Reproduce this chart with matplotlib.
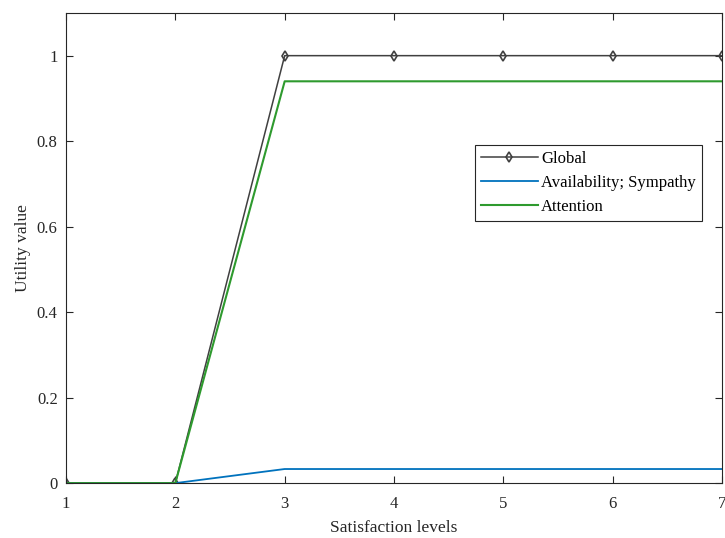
import matplotlib
matplotlib.use('Agg')
import matplotlib.pyplot as plt

plt.rcParams['font.family'] = ['Liberation Serif', 'DejaVu Serif']

levels = [1, 2, 3, 4, 5, 6, 7]
global_util = [0, 0, 1, 1, 1, 1, 1]
avail_sympathy = [0, 0, 0.033, 0.033, 0.033, 0.033, 0.033]
attention = [0, 0, 0.94, 0.94, 0.94, 0.94, 0.94]

fig = plt.figure(figsize=(7.25, 5.38), dpi=100)
ax = fig.add_axes([0.091, 0.102, 0.905, 0.874])

ax.plot(levels, global_util, color='#404040', lw=1.1, marker='d', ms=5,
        mfc='none', mec='#404040', mew=1.2, label='Global')
ax.plot(levels, avail_sympathy, color='#0072BD', lw=1.3, label='Availability; Sympathy')
ax.plot(levels, attention, color='#2E9A2E', lw=1.5, label='Attention')

ax.set_xlim(1, 7)
ax.set_ylim(0, 1.1)
ax.set_xticks(levels)
ax.set_yticks([0, 0.2, 0.4, 0.6, 0.8, 1])
ax.set_yticklabels(['0', '0.2', '0.4', '0.6', '0.8', '1'])
ax.tick_params(direction='in', top=True, right=True, labelsize=12, colors='#262626', length=5)
ax.tick_params(axis='x', pad=9)
ax.tick_params(axis='y', pad=6)
for s in ax.spines.values():
    s.set_color('#262626')
    s.set_linewidth(0.8)

ax.set_xlabel('Satisfaction levels', fontsize=12.5, color='#262626', labelpad=6)
ax.set_ylabel('Utility value', fontsize=12.5, color='#262626', labelpad=4)

leg = ax.legend(loc='upper left', bbox_to_anchor=(0.6237, 0.7195), fontsize=12,
                fancybox=False, framealpha=1, edgecolor='#262626',
                handlelength=3.4, borderpad=0.35, labelspacing=0.5, handletextpad=0.2,
                borderaxespad=0)
leg.get_frame().set_linewidth(0.8)

fig.savefig('out.png', dpi=100)
